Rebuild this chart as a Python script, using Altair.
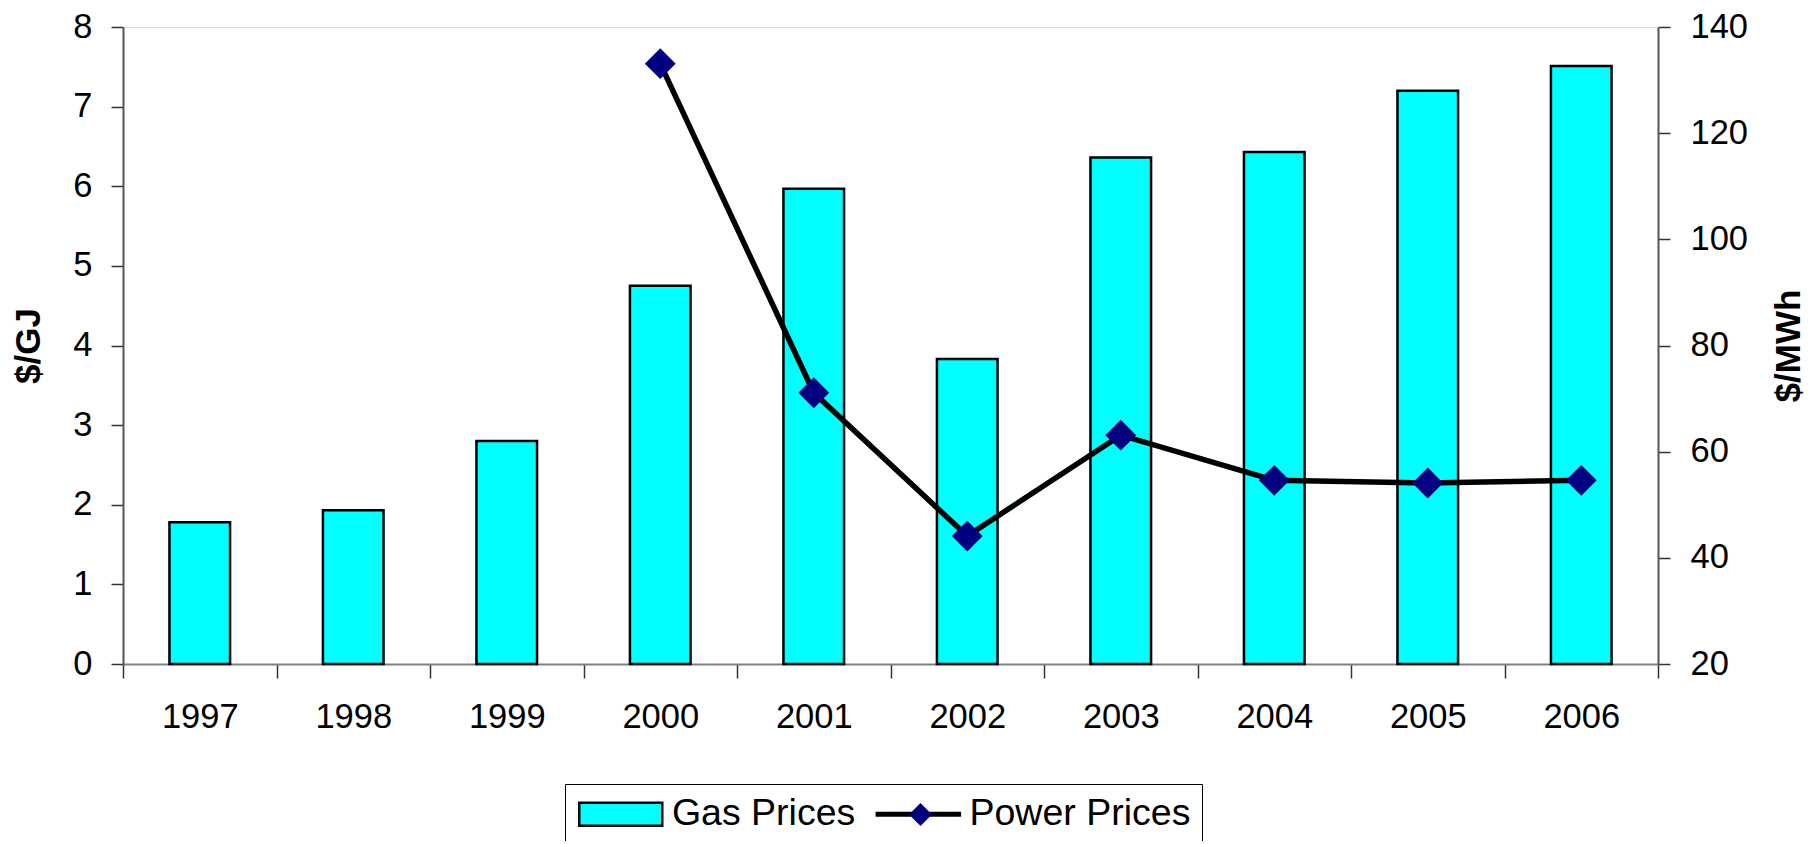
import altair as alt
import pandas as pd

years = ["1997", "1998", "1999", "2000", "2001", "2002", "2003", "2004", "2005", "2006"]
gas_prices = [1.78, 1.93, 2.80, 4.75, 5.97, 3.83, 6.36, 6.43, 7.20, 7.51]
power_years = ["2000", "2001", "2002", "2003", "2004", "2005", "2006"]
power_prices = [133.1, 71.1, 44.1, 63.1, 54.6, 54.1, 54.6]
series_names = ["Gas Prices", "Power Prices"]
gas_ticks = [0, 1, 2, 3, 4, 5, 6, 7, 8]
power_ticks = [20, 40, 60, 80, 100, 120, 140]

gas_df = pd.DataFrame({"year": years, "value": gas_prices, "series": series_names[0]})
power_df = pd.DataFrame({"year": power_years, "value": power_prices, "series": series_names[1]})

FONT = "Liberation Sans"
# legend symbol outlines (symbolSize 100 -> 1 unit = 5px)
RECT = "M-8.3,-2.3H8.3V2.3H-8.3Z"
LINE = "M-8.3,-0.25H8.3V0.25H-8.3Z"
IS_GAS = "datum.value === 'Gas Prices'"

x_enc = alt.X(
    "year:N",
    scale=alt.Scale(domain=years, paddingInner=0, paddingOuter=0),
    axis=alt.Axis(
        title=None, labelAngle=0, tickBand="extent", labelFontSize=34.5, labelFont=FONT,
        labelColor="black", labelPadding=22, tickSize=14, tickColor="#333333",
        tickWidth=1.5, domainColor="#808080", domainWidth=2,
    ),
)

fill_scale = alt.Scale(domain=series_names, range=["#00FFFF", "#000080"])

main_legend = alt.Legend(
    orient="none", legendX=442, legendY=757, direction="horizontal", title=None,
    padding=11, strokeColor="black", fillColor="white",
    symbolSize=100, symbolOffset=26,
    symbolType={"expr": f"({IS_GAS}) ? '{RECT}' : '{LINE}'"},
    symbolStrokeColor="black",
    symbolStrokeWidth=2.5,
    symbolOpacity=1,
    labelFontSize=37.5, labelFont=FONT, labelColor="black", labelOffset=32.4,
    labelLimit=500, columnPadding=15.6,
)

diamond_legend = alt.Legend(
    orient="none", legendX=786, legendY=776, title=None, padding=0,
    symbolSize=529, symbolFillColor="#000080", symbolStrokeWidth=0, symbolOpacity=1,
    symbolType="diamond",
    labelExpr="''", labelFontSize=1,
)

y_left = alt.Y(
    "value:Q",
    scale=alt.Scale(domain=[0, 8], nice=False, zero=True),
    axis=alt.Axis(
        orient="left", values=gas_ticks, title="$/GJ", grid=False,
        labelFontSize=34.5, labelFont=FONT, labelColor="black", labelPadding=19,
        tickSize=12, tickColor="#333333", tickWidth=1.5,
        domainColor="#555555", domainWidth=2,
        titleFont=FONT, titleFontSize=35, titleFontWeight="bold", titleColor="black",
        titleAngle=270, titleX=-95, titleY=318.5, titleAlign="center", titleBaseline="middle",
    ),
)

right_axis = alt.Axis(
    orient="right", values=power_ticks, title="$/MWh", grid=False,
    labelFontSize=34.5, labelFont=FONT, labelColor="black", labelPadding=20,
    tickSize=12, tickColor="#333333", tickWidth=1.5,
    domainColor="#555555", domainWidth=2,
    titleFont=FONT, titleFontSize=35, titleFontWeight="bold", titleColor="black",
    titleAngle=270, titleX=130, titleY=318.5, titleAlign="center", titleBaseline="middle",
)
right_scale = alt.Scale(domain=[20, 140], nice=False, zero=False)

bars = alt.Chart(gas_df).mark_bar(
    width=alt.RelativeBandSize(0.395), stroke="black", strokeWidth=2.5
).encode(
    x=x_enc,
    y=y_left,
    fill=alt.Fill("series:N", scale=fill_scale, legend=main_legend),
)

line = alt.Chart(power_df).mark_line(color="black", strokeWidth=5.5).encode(
    x=alt.X("year:N"),
    y=alt.Y("value:Q", scale=right_scale, axis=right_axis),
)

points = alt.Chart(power_df).mark_point(filled=True, size=950, opacity=1, strokeWidth=0).encode(
    x=alt.X("year:N"),
    y=alt.Y("value:Q", scale=right_scale, axis=right_axis),
    fill=alt.Fill("series:N", scale=fill_scale),
    shape=alt.Shape("series:N", scale=alt.Scale(domain=["Power Prices"], range=["diamond"]),
                    legend=diamond_legend),
)

chart = alt.layer(bars, alt.layer(line, points)).resolve_scale(y="independent").properties(
    width=1535, height=637,
    autosize=alt.AutoSizeParams(type="none"),
    padding={"left": 115, "top": 19, "right": 150, "bottom": 177},
    background="white",
).configure_view(stroke="#999999", strokeWidth=2).configure(font=FONT)

chart.save("out.html", embed_options={"renderer": "svg", "actions": False})
